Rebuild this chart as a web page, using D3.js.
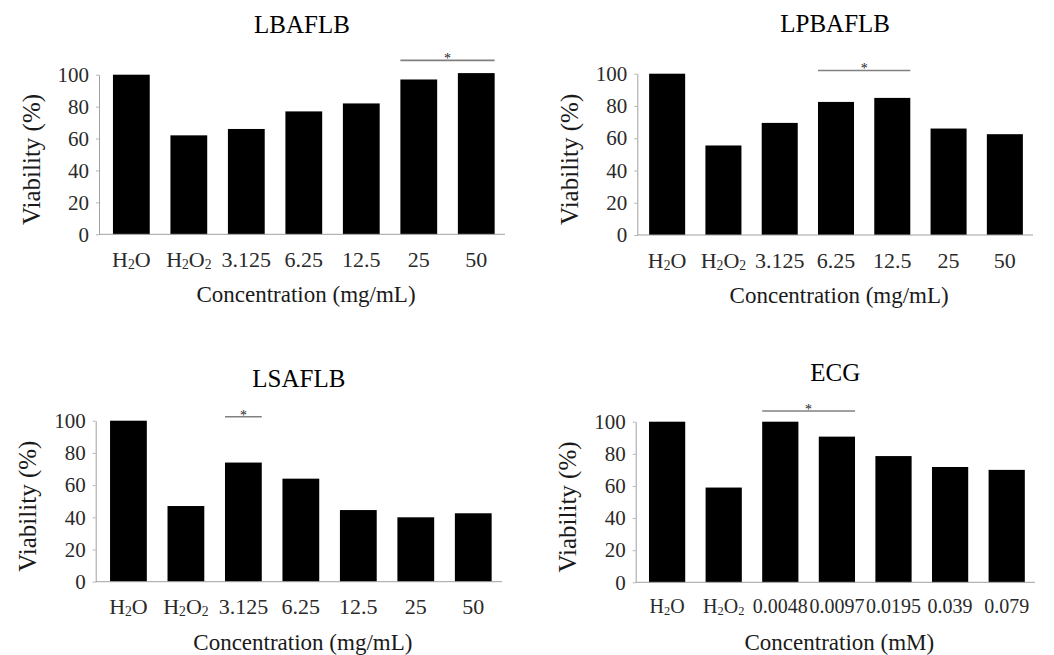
<!DOCTYPE html>
<html>
<head>
<meta charset="utf-8">
<script src="https://cdn.jsdelivr.net/npm/d3@7"></script>
<style>
  body { margin: 0; background: #fff; }
  svg text { font-family: "Liberation Serif", serif !important; }
</style>
</head>
<body>
<svg id="chart" width="1054" height="655"></svg>
<script>
// Categories and values
const concMg = ["H2O", "H2O2", "3.125", "6.25", "12.5", "25", "50"];
const concMM = ["H2O", "H2O2", "0.0048", "0.0097", "0.0195", "0.039", "0.079"];
const yTicks = [0, 20, 40, 60, 80, 100];

const viabLBAFLB = [100, 62, 66, 77, 82, 97, 101];
const viabLPBAFLB = [100, 55.5, 69.5, 82.5, 85, 66, 62.5];
const viabLSAFLB = [100, 47, 74, 64, 44.5, 40, 42.5];
const viabECG = [100, 59, 100, 90.7, 78.6, 71.8, 70];

// significance bars: [first category, last category, height in %]
const sigLBAFLB = ["25", "50", 109];
const sigLPBAFLB = ["6.25", "12.5", 102];
const sigLSAFLB = ["3.125", "3.125", 102.5];
const sigECG = ["0.0048", "0.0097", 106.7];

const serif = "'Liberation Serif', serif";
const svg = d3.select("#chart").style("font-family", serif);

// layout of each panel (pixels)
const panels = [
  { title: "LBAFLB", cats: concMg, values: viabLBAFLB, sig: sigLBAFLB, xTitle: "Concentration (mg/mL)",
    axisX: 99, x0: 102.6, x1: 505, yBottom: 234.3, yTop: 74.7, titleY: 33, tickFont: 22 },
  { title: "LPBAFLB", cats: concMg, values: viabLPBAFLB, sig: sigLPBAFLB, xTitle: "Concentration (mg/mL)",
    axisX: 637.3, x0: 639, x1: 1033, yBottom: 235, yTop: 73.7, titleY: 32, tickFont: 22 },
  { title: "LSAFLB", cats: concMg, values: viabLSAFLB, sig: sigLSAFLB, xTitle: "Concentration (mg/mL)",
    axisX: 95.7, x0: 99.7, x1: 502, yBottom: 581.7, yTop: 420.7, titleY: 387, tickFont: 22 },
  { title: "ECG", cats: concMM, values: viabECG, sig: sigECG, xTitle: "Concentration (mM)",
    axisX: 635.7, x0: 638.8, x1: 1035, yBottom: 582.3, yTop: 421.7, titleY: 381, tickFont: 20 }
];

// write "H2O" style labels with subscript digits
function chemLabel(sel, label, size) {
  sel.text(null);
  if (label.startsWith("H")) {
    const parts = label.split(/(\d)/).filter(p => p !== "");
    let shifted = false;
    parts.forEach(p => {
      const t = sel.append("tspan").text(p);
      if (/\d/.test(p)) {
        t.attr("font-size", size * 0.62).attr("dy", 2);
        shifted = true;
      } else if (shifted) {
        t.attr("dy", -2);
        shifted = false;
      }
    });
  } else {
    sel.text(label);
  }
}

panels.forEach(p => {
  const g = svg.append("g");
  const data = p.cats.map((c, i) => ({ cat: c, value: p.values[i] }));

  const x = d3.scaleBand()
    .domain(p.cats)
    .range([p.x0, p.x1])
    .paddingInner(0.36)
    .paddingOuter(0.18);

  const y = d3.scaleLinear()
    .domain([0, 100])
    .range([p.yBottom, p.yTop]);

  // bars
  g.selectAll(".bar")
    .data(data)
    .enter()
    .append("rect")
    .attr("class", "bar")
    .attr("x", d => x(d.cat))
    .attr("y", d => y(d.value))
    .attr("width", x.bandwidth())
    .attr("height", d => y(0) - y(d.value))
    .attr("fill", "#000");

  // y axis
  const yAxis = g.append("g")
    .attr("transform", `translate(${p.axisX},0)`)
    .call(d3.axisLeft(y).tickValues(yTicks).tickSize(3).tickSizeOuter(0).tickPadding(7));
  yAxis.attr("font-family", null).attr("font-size", null);
  yAxis.select(".domain").attr("stroke", "#a0a0a0");
  yAxis.selectAll(".tick line").attr("stroke", "#b5b5b5");
  yAxis.selectAll(".tick text")
    .style("font-family", serif)
    .style("font-size", "21px")
    .attr("fill", "#2a2a2a");

  // x axis
  const xAxis = g.append("g")
    .attr("transform", `translate(0,${p.yBottom})`)
    .call(d3.axisBottom(x).tickSize(0).tickPadding(17));
  xAxis.attr("font-family", null).attr("font-size", null);
  xAxis.select(".domain").remove();
  xAxis.selectAll(".tick text")
    .style("font-family", serif)
    .style("font-size", p.tickFont + "px")
    .attr("fill", "#2a2a2a")
    .each(function (d) { chemLabel(d3.select(this), d, p.tickFont); });
  g.append("line")
    .attr("x1", p.axisX).attr("x2", p.x1)
    .attr("y1", p.yBottom).attr("y2", p.yBottom)
    .attr("stroke", "#a0a0a0");

  // significance bar
  const [from, to, level] = p.sig;
  const sx1 = x(from), sx2 = x(to) + x.bandwidth();
  g.append("line")
    .attr("x1", sx1).attr("x2", sx2)
    .attr("y1", y(level)).attr("y2", y(level))
    .attr("stroke", "#808080")
    .attr("stroke-width", 1.6);
  g.append("text")
    .attr("x", (sx1 + sx2) / 2)
    .attr("y", y(level) + 3)
    .attr("text-anchor", "middle")
    .style("font-size", "14px")
    .attr("fill", "#222")
    .text("*");

  // titles
  const mid = (p.axisX + p.x1) / 2;
  g.append("text")
    .attr("x", mid)
    .attr("y", p.titleY)
    .attr("text-anchor", "middle")
    .style("font-size", "25px")
    .attr("fill", "#000")
    .text(p.title);

  g.append("text")
    .attr("x", mid + 4)
    .attr("y", p.yBottom + 68)
    .attr("text-anchor", "middle")
    .style("font-size", "23px")
    .attr("fill", "#1a1a1a")
    .text(p.xTitle);

  g.append("text")
    .attr("transform", `translate(${p.axisX - 68},${(p.yBottom + p.yTop) / 2 + 5}) rotate(-90)`)
    .attr("dy", "0.35em")
    .attr("text-anchor", "middle")
    .style("font-size", "25px")
    .attr("fill", "#1a1a1a")
    .text("Viability (%)");
});
</script>
</body>
</html>
